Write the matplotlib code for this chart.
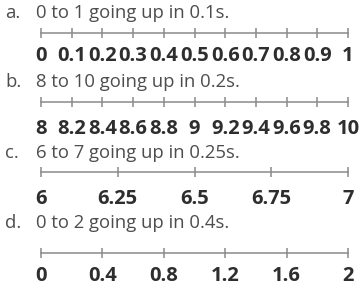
import matplotlib
matplotlib.use("Agg")
import matplotlib.pyplot as plt

plt.rcParams["font.family"] = ["Open Sans", "DejaVu Sans"]

# Number line data
letters = ["a.", "b.", "c.", "d."]
headings = [
    "0 to 1 going up in 0.1s.",
    "8 to 10 going up in 0.2s.",
    "6 to 7 going up in 0.25s.",
    "0 to 2 going up in 0.4s.",
]
starts = [0.0, 8.0, 6.0, 0.0]
ends = [1.0, 10.0, 7.0, 2.0]
ticks_a = [0, 0.1, 0.2, 0.3, 0.4, 0.5, 0.6, 0.7, 0.8, 0.9, 1.0]
ticks_b = [8, 8.2, 8.4, 8.6, 8.8, 9, 9.2, 9.4, 9.6, 9.8, 10]
ticks_c = [6, 6.25, 6.5, 6.75, 7]
ticks_d = [0, 0.4, 0.8, 1.2, 1.6, 2]
labels_a = ["0", "0.1", "0.2", "0.3", "0.4", "0.5", "0.6", "0.7", "0.8", "0.9", "1"]
labels_b = ["8", "8.2", "8.4", "8.6", "8.8", "9", "9.2", "9.4", "9.6", "9.8", "10"]
labels_c = ["6", "6.25", "6.5", "6.75", "7"]
labels_d = ["0", "0.4", "0.8", "1.2", "1.6", "2"]
all_ticks = [ticks_a, ticks_b, ticks_c, ticks_d]
all_labels = [labels_a, labels_b, labels_c, labels_d]

# Layout (pixels from top of a 361x286 canvas)
W, H = 361, 286
head_base = [18, 87, 158, 228]
line_y = [33, 102, 172, 253]
label_gap = [27, 31, 31, 27]   # line -> label baseline
X0, X1 = 41, 348

fig = plt.figure(figsize=(W / 100, H / 100), dpi=100)
fig.patch.set_facecolor("white")

for i in range(4):
    fig.text(5 / W, 1 - head_base[i] / H, letters[i], fontsize=13.3,
             color="#4d4d4d", va="baseline", ha="left")
    fig.text(36 / W, 1 - head_base[i] / H, headings[i], fontsize=13.3,
             color="#4d4d4d", va="baseline", ha="left")

    ax = fig.add_axes([X0 / W, 1 - (line_y[i] + 1) / H, (X1 - X0) / W, 2 / H])
    ax.set_xlim(starts[i], ends[i])
    ax.set_ylim(-1, 1)
    ax.axis("off")
    ax.plot([starts[i], ends[i]], [0, 0], color="#8a8a8a", lw=1.1,
            clip_on=False)
    ax.plot(all_ticks[i], [0] * len(all_ticks[i]), linestyle="none",
            marker="|", markersize=7.5, markeredgewidth=1.1,
            color="#8a8a8a", clip_on=False)
    for t, lab in zip(all_ticks[i], all_labels[i]):
        ax.annotate(lab, xy=(t, 0), xytext=(0, -(label_gap[i] + 1) * 0.72),
                    textcoords="offset points", ha="center", va="baseline",
                    fontsize=14.5, fontweight="bold", color="#2e2e2e",
                    annotation_clip=False)

fig.savefig("out.png", dpi=100, facecolor="white")
